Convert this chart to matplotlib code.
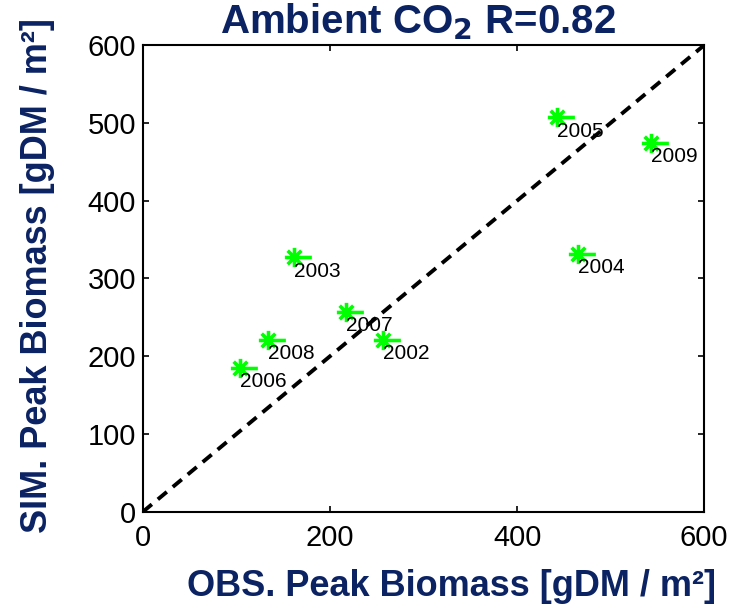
import matplotlib
matplotlib.use('Agg')
import matplotlib.pyplot as plt
from matplotlib.path import Path

# Observed vs simulated peak biomass per year (gDM / m2)
years = ['2002', '2003', '2004', '2005', '2006', '2007', '2008', '2009']
obs = [257, 161, 465, 443, 104, 217, 134, 543]
sim = [221, 327, 332, 507, 185, 257, 221, 474]

navy = '#0b2263'
plt.rcParams['font.family'] = ['Liberation Sans', 'DejaVu Sans']

# asterisk marker with a short tail to the right
d = 0.7071
verts = [(-1, 0), (1, 0), (0, -1), (0, 1), (-d, -d), (d, d), (-d, d), (d, -d),
         (1, 0), (1.8, 0)]
codes = [Path.MOVETO, Path.LINETO] * 5
star = Path(verts, codes)

fig = plt.figure(figsize=(7.29, 6.10), dpi=100)
ax = fig.add_axes([0.196, 0.161, 0.770, 0.765])

# 1:1 line
ax.plot([0, 600], [0, 600], color='black', lw=2.8, ls=(0, (3, 2)))

ax.plot(obs, sim, ls='none', marker=star, ms=25, mew=2.6,
        color='#00ff00', zorder=3)
for x, y, name in zip(obs, sim, years):
    ax.annotate(name, (x, y), xytext=(0, -3), textcoords='offset points',
                ha='left', va='top', fontsize=15, color='black', zorder=4)

ax.set_xlim(0, 600)
ax.set_ylim(0, 600)
ax.set_xticks([0, 200, 400, 600])
ax.set_yticks(range(0, 601, 100))
ax.tick_params(direction='in', length=4, width=1.2, top=True, right=True,
               labelsize=21)
ax.tick_params(axis='x', pad=9)
ax.tick_params(axis='y', pad=5)
for sp in ax.spines.values():
    sp.set_linewidth(1.5)

fig.text(0.573, 0.946, 'Ambient CO$_\\mathbf{2}$ R=0.82', fontsize=29,
         fontweight='bold', color=navy, ha='center', va='baseline')
fig.text(0.619, 0.038, 'OBS. Peak Biomass [gDM / m²]', fontsize=26,
         fontweight='bold', color=navy, ha='center', va='center')
fig.text(0.052, 0.549, 'SIM. Peak Biomass [gDM / m²]', fontsize=26,
         fontweight='bold', color=navy, ha='center', va='center', rotation=90)

fig.savefig('out.png', dpi=100)
